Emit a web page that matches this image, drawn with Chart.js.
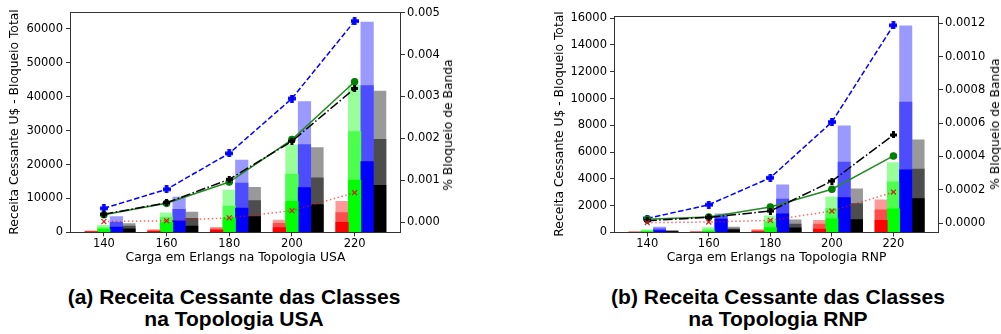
<!DOCTYPE html>
<html>
<head>
<meta charset="utf-8">
<script src="https://cdn.jsdelivr.net/npm/chart.js@4.4.1/dist/chart.umd.min.js"></script>
<style>
  html, body { margin: 0; padding: 0; background: #fff; }
  body { width: 1001px; height: 334px; position: relative; overflow: hidden; }
  .box { position: absolute; top: 0; height: 270px; }
  #boxUSA { left: 0; width: 480px; }
  #boxRNP { left: 540px; width: 461px; }
  .rtitle { position: absolute; font: 12.3px "DejaVu Sans"; color: #000; white-space: nowrap;
            transform: translate(-50%, -50%) rotate(-90deg); }
  .caption { position: absolute; top: 286px; width: 400px; text-align: center;
             font: bold 21px/22px "Liberation Sans", Arial, sans-serif; color: #000; }
</style>
</head>
<body>
<div class="box" id="boxUSA"><canvas id="usa"></canvas></div>
<div class="box" id="boxRNP"><canvas id="rnp"></canvas></div>
<div class="rtitle" style="left:448px; top:125px;">% Bloqueio de Banda</div>
<div class="rtitle" style="left:995px; top:124px;">% Bloqueio de Banda</div>
<div class="caption" style="left:34px;">(a) Receita Cessante das Classes<br>na Topologia USA</div>
<div class="caption" style="left:578px;">(b) Receita Cessante das Classes<br>na Topologia RNP</div>

<script>
// cargas (Erlangs)
const loads = [140, 160, 180, 200, 220];

// ---- Topologia USA: receita cessante (U$), niveis por classe (escuro, medio, total)
const usaRedC1   = [150, 260, 680, 1360, 2950];
const usaRedC2   = [310, 520, 1060, 2650, 5790];
const usaRedTot  = [470, 770, 1480, 3630, 9150];
const usaGreenC1  = [890, 2950, 4160, 9150, 15430];
const usaGreenC2  = [1360, 4450, 7760, 17200, 29690];
const usaGreenTot = [2070, 5750, 12480, 25760, 43380];
const usaBlueC1  = [1560, 3420, 7170, 13170, 20840];
const usaBlueC2  = [2950, 6780, 14550, 25850, 43270];
const usaBlueTot = [4610, 10420, 21330, 38540, 62060];
const usaBlackC1  = [1060, 1860, 4610, 8150, 13870];
const usaBlackC2  = [1860, 4130, 9330, 16110, 27440];
const usaBlackTot = [2540, 5990, 13280, 24970, 41700];

// bloqueio de banda USA
const usaBlueBlk  = [0.000327, 0.00078, 0.00164, 0.00295, 0.00480];
const usaGreenBlk = [0.000175, 0.000446, 0.000955, 0.00197, 0.00335];
const usaBlackBlk = [0.000184, 0.00046, 0.00102, 0.00193, 0.00319];
const usaRedBlk   = [0.000008, 0.00003, 0.0001, 0.00027, 0.0007];

// ---- Topologia RNP
const rnpRedC1   = [5, 20, 70, 250, 900];
const rnpRedC2   = [8, 40, 150, 630, 1690];
const rnpRedTot  = [10, 60, 220, 900, 2440];
const rnpGreenC1  = [60, 90, 370, 1020, 1770];
const rnpGreenC2  = [130, 200, 820, 1790, 3780];
const rnpGreenTot = [200, 370, 1250, 2660, 5220];
const rnpBlueC1  = [150, 1000, 1390, 2610, 4680];
const rnpBlueC2  = [280, 1250, 2490, 5250, 9730];
const rnpBlueTot = [400, 1400, 3560, 7960, 15430];
const rnpBlackC1  = [70, 200, 350, 970, 2540];
const rnpBlackC2  = [110, 280, 630, 2160, 4730];
const rnpBlackTot = [150, 400, 950, 3260, 6920];

const rnpBlueBlk  = [0.000027, 0.00011, 0.000272, 0.000607, 0.001188];
const rnpGreenBlk = [0.000022, 0.000036, 0.000096, 0.000203, 0.000403];
const rnpBlackBlk = [0.000014, 0.000034, 0.000072, 0.000252, 0.000529];
const rnpRedBlk   = [0.000002, 0.000006, 0.000016, 0.000072, 0.000186];

// tick labels
const xTicks = [140, 160, 180, 200, 220];
const usaYTicks = [0, 10000, 20000, 30000, 40000, 50000, 60000];
const usaY1Ticks = [0, 0.001, 0.002, 0.003, 0.004, 0.005];
const rnpYTicks = [0, 2000, 4000, 6000, 8000, 10000, 12000, 14000, 16000];
const rnpY1Ticks = [0, 0.0002, 0.0004, 0.0006, 0.0008, 0.0010, 0.0012];

// bar slot offsets (red, green, blue, black) in load units, bar width 4
const barOffsets = [-4, 0, 4, 8];
const palette = [
  ['#ff9999', '#ff4d4d', '#ff0000'],
  ['#99ff99', '#4dff4d', '#00ff00'],
  ['#9999ff', '#4d4dff', '#0000ff'],
  ['#999999', '#4d4d4d', '#000000']
];

Chart.defaults.font.family = 'DejaVu Sans';
Chart.defaults.font.size = 11.5;
Chart.defaults.color = '#000';
const titleFont = { size: 12.3 };

function plusMarker(color, s, t) {
  const c = document.createElement('canvas');
  c.width = s; c.height = s;
  const g = c.getContext('2d');
  g.fillStyle = color;
  g.fillRect((s - t) / 2, 0, t, s);
  g.fillRect(0, (s - t) / 2, s, t);
  return c;
}

const framePlugin = {
  id: 'frame',
  afterDatasetsDraw(chart) {
    const a = chart.chartArea, ctx = chart.ctx;
    ctx.save();
    ctx.strokeStyle = '#333';
    ctx.lineWidth = 1;
    ctx.strokeRect(Math.round(a.left) + 0.5, Math.round(a.top) + 0.5,
                   Math.round(a.right - a.left) - 1, Math.round(a.bottom - a.top) - 1);
    ctx.restore();
  }
};

function makeChart(id, cfg) {
  const datasets = [];
  const lines = [
    { d: cfg.red,   color: 'rgba(255,0,0,0.6)', dash: [1.5, 2.5], style: 'crossRot', pc: '#d02020', r: 3.5 },
    { d: cfg.black, color: '#000', dash: [9.6, 2.4, 1.5, 2.4], style: plusMarker('#000', 7, 3), pc: '#000', r: 3.5 },
    { d: cfg.green, color: '#228b22', dash: [], style: 'circle', pc: '#008000', r: 3.2 },
    { d: cfg.blue,  color: '#0000ff', dash: [5.5, 2.4], style: plusMarker('#0000ff', 8, 3.6), pc: '#0000ff', r: 4 }
  ];
  lines.forEach(l => {
    datasets.push({
      type: 'line',
      data: loads.map((x, i) => ({ x: x, y: l.d[i] })),
      yAxisID: 'y1',
      borderColor: l.color,
      borderWidth: 1.5,
      borderDash: l.dash,
      pointStyle: l.style,
      pointRadius: l.r,
      pointBackgroundColor: l.pc,
      pointBorderColor: l.pc,
      pointBorderWidth: 1.2,
      tension: 0,
      fill: false,
      order: 0
    });
  });
  cfg.bars.forEach((levels, gi) => {
    levels.forEach((vals, li) => {
      datasets.push({
        type: 'bar',
        data: loads.map((x, i) => ({ x: x + barOffsets[gi], y: vals[i] })),
        yAxisID: 'y',
        backgroundColor: palette[gi][li],
        borderWidth: 0,
        grouped: false,
        barPercentage: 1,
        categoryPercentage: 1,
        order: 3 - li
      });
    });
  });

  const tickList = arr => scale => { scale.ticks = arr.map(v => ({ value: v })); };

  return new Chart(document.getElementById(id), {
    type: 'bar',
    data: { datasets },
    options: {
      responsive: true,
      maintainAspectRatio: false,
      animation: false,
      layout: { padding: { top: cfg.top, left: 0, right: 0, bottom: 0 }, autoPadding: false },
      plugins: { legend: { display: false }, tooltip: { enabled: false } },
      scales: {
        x: {
          type: 'linear', offset: false,
          min: 129.2, max: 234.8,
          afterBuildTicks: tickList(xTicks),
          afterFit: s => { s.height = cfg.xh; },
          grid: { offset: false, drawOnChartArea: false, drawTicks: true, tickLength: 4, color: '#333' },
          border: { display: false },
          ticks: { padding: 1, autoSkip: false, maxRotation: 0, callback: v => String(v) },
          title: { display: true, text: cfg.xTitle, font: titleFont, padding: { top: 0, bottom: 5 } }
        },
        y: {
          position: 'left',
          min: 0, max: cfg.yMax,
          afterBuildTicks: tickList(cfg.yTicks),
          afterFit: s => { s.width = cfg.yw; },
          grid: { drawOnChartArea: false, drawTicks: true, tickLength: 4, color: '#333' },
          border: { display: false },
          ticks: { padding: 3, callback: v => String(v) },
          title: { display: true, text: 'Receita Cessante U$ - Bloqueio Total', font: titleFont,
                   padding: { top: cfg.ytp, bottom: 0 } }
        },
        y1: {
          position: 'right',
          stacked: false,
          min: cfg.y1Min, max: cfg.y1Max,
          afterBuildTicks: tickList(cfg.y1Ticks),
          afterFit: s => { s.width = cfg.y1w; },
          grid: { drawOnChartArea: false, drawTicks: true, tickLength: 4, color: '#333' },
          border: { display: false },
          ticks: { padding: 2, callback: v => v.toFixed(cfg.dec) }
        }
      }
    },
    plugins: [framePlugin]
  });
}

makeChart('usa', {
  top: 11.7, xh: 37.7, yw: 70, y1w: 79, ytp: 7.6,
  xTitle: 'Carga em Erlangs na Topologia USA',
  yMax: 65100, yTicks: usaYTicks,
  y1Min: -0.000246, y1Max: 0.005024, y1Ticks: usaY1Ticks, dec: 3,
  red: usaRedBlk, green: usaGreenBlk, black: usaBlackBlk, blue: usaBlueBlk,
  bars: [
    [usaRedTot, usaRedC2, usaRedC1],
    [usaGreenTot, usaGreenC2, usaGreenC1],
    [usaBlueTot, usaBlueC2, usaBlueC1],
    [usaBlackTot, usaBlackC2, usaBlackC1]
  ]
});

makeChart('rnp', {
  top: 15.5, xh: 37.5, yw: 74, y1w: 62, ytp: 12.6,
  xTitle: 'Carga em Erlangs na Topologia RNP',
  yMax: 16200, yTicks: rnpYTicks,
  y1Min: -0.000057, y1Max: 0.001247, y1Ticks: rnpY1Ticks, dec: 4,
  red: rnpRedBlk, green: rnpGreenBlk, black: rnpBlackBlk, blue: rnpBlueBlk,
  bars: [
    [rnpRedTot, rnpRedC2, rnpRedC1],
    [rnpGreenTot, rnpGreenC2, rnpGreenC1],
    [rnpBlueTot, rnpBlueC2, rnpBlueC1],
    [rnpBlackTot, rnpBlackC2, rnpBlackC1]
  ]
});
</script>
</body>
</html>
